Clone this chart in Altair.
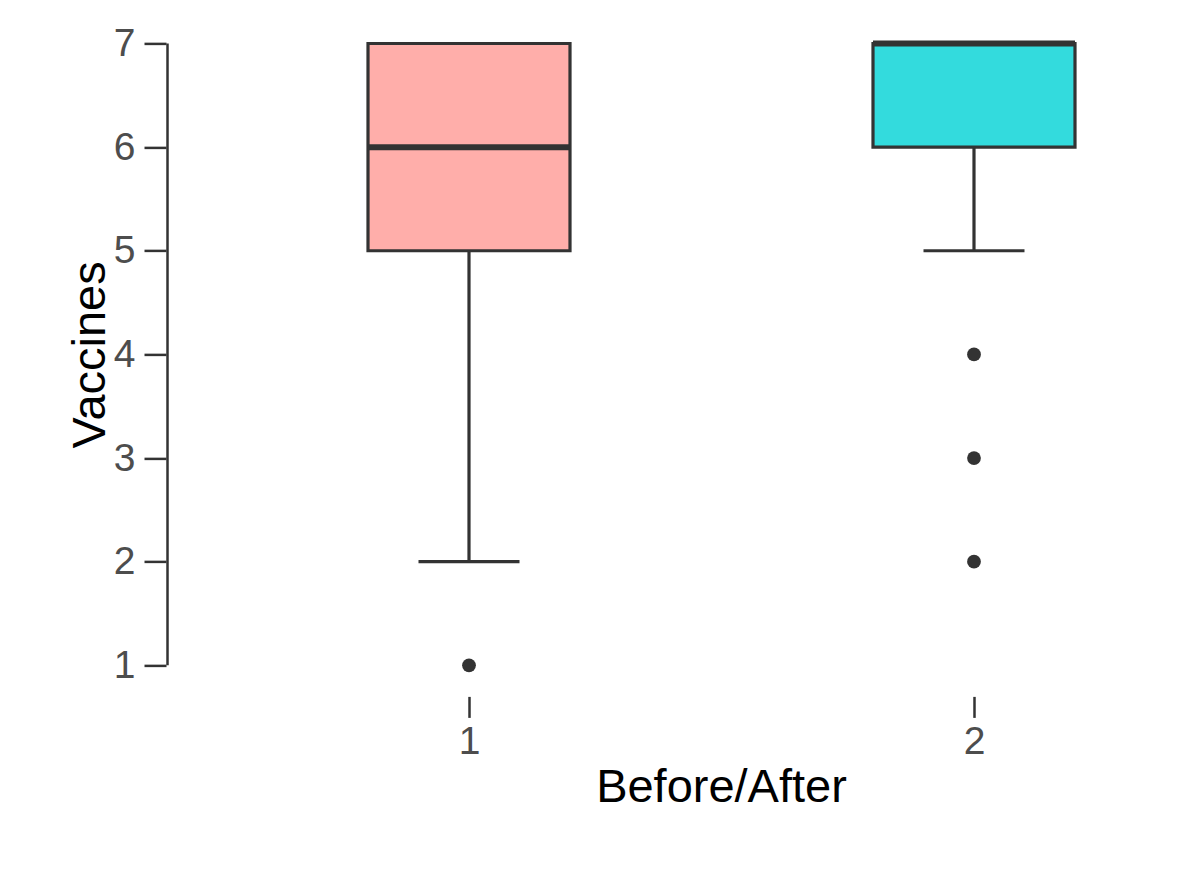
import altair as alt
import pandas as pd

# ---- data ----
groups = [1, 2]
lower_whisker = [2, 5]
q1 = [5, 6]
median = [6, 7]
q3 = [7, 7]
upper_whisker = [7, 7]
outlier_group = [1, 2, 2, 2]
outlier_value = [1, 4, 3, 2]
fill_colors = ["#FFAEAA", "#33DBDD"]
y_ticks = [1, 2, 3, 4, 5, 6, 7]
x_ticks = [1, 2]

stats = pd.DataFrame({
    "g": groups, "lo": lower_whisker, "q1": q1, "med": median,
    "q3": q3, "hi": upper_whisker,
})
outs = pd.DataFrame({"g": outlier_group, "v": outlier_value})
axis_df = pd.DataFrame({"ymin": [min(y_ticks)], "ymax": [max(y_ticks)]})

FONT = "Liberation Sans"
DARK = "#333333"

xs = alt.Scale(domain=[0.4, 2.4], nice=False, zero=False)
ys = alt.Scale(domain=[0.7, 7.3], nice=False, zero=False)

x_axis = alt.Axis(
    values=x_ticks, format="d", domain=False, grid=False,
    tickSize=21, tickWidth=2.5, tickColor=DARK,
    labelFontSize=39, labelColor="#4D4D4D", labelFont=FONT, labelPadding=5,
    title="Before/After", titleFontSize=47, titleFont=FONT, titleColor="black",
    titleFontWeight="normal", titleX=555, titleY=105,
    titleBaseline="alphabetic", titleAlign="center",
)
y_axis = alt.Axis(
    values=y_ticks, format="d", domain=False, grid=False,
    tickSize=22, tickWidth=2.5, tickColor=DARK,
    labelFontSize=39, labelColor="#4D4D4D", labelFont=FONT, labelPadding=9,
    title="Vaccines", titleFontSize=47, titleFont=FONT, titleColor="black",
    titleFontWeight="normal", titleAngle=270, titleX=-62, titleY=342,
    titleBaseline="alphabetic", titleAlign="center",
)

base = alt.Chart(stats).transform_calculate(
    xl="datum.g - 0.2", xr="datum.g + 0.2",
    cl="datum.g - 0.1", cr="datum.g + 0.1",
)

whisker = base.mark_rule(color=DARK, strokeWidth=3.2).encode(
    x=alt.X("g:Q", scale=xs, axis=x_axis),
    y=alt.Y("lo:Q", scale=ys, axis=y_axis),
    y2="hi:Q",
)
caps_lo = base.mark_rule(color=DARK, strokeWidth=3.2).encode(
    x=alt.X("cl:Q", scale=xs), x2="cr:Q", y=alt.Y("lo:Q", scale=ys),
)
box = base.mark_rect(stroke=DARK, strokeWidth=3.2).encode(
    x=alt.X("xl:Q", scale=xs), x2="xr:Q",
    y=alt.Y("q1:Q", scale=ys), y2="q3:Q",
    fill=alt.Fill("g:N", scale=alt.Scale(domain=groups, range=fill_colors), legend=None),
)
med = base.mark_rule(color=DARK, strokeWidth=6).encode(
    x=alt.X("xl:Q", scale=xs), x2="xr:Q", y=alt.Y("med:Q", scale=ys),
)
points = alt.Chart(outs).mark_circle(size=190, color=DARK, opacity=1).encode(
    x=alt.X("g:Q", scale=xs), y=alt.Y("v:Q", scale=ys),
)
yline = alt.Chart(axis_df).mark_rule(color=DARK, strokeWidth=2.5).encode(
    x=alt.value(1.5),
    y=alt.Y("ymin:Q", scale=ys), y2="ymax:Q",
)

chart = alt.layer(whisker, caps_lo, box, med, points, yline).properties(
    width=1010, height=684,
    autosize=alt.AutoSizeParams(type="none"),
    padding={"left": 158, "top": 4.4, "right": 10, "bottom": 150},
).configure(background="white").configure_view(stroke="transparent", strokeWidth=0)

chart.save("out.html", embed_options={"renderer": "svg", "actions": False})
